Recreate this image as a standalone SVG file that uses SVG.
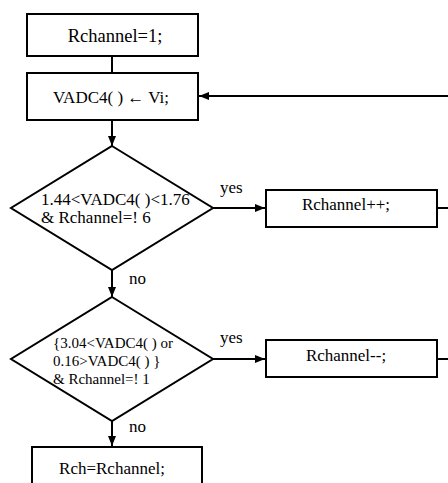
<svg xmlns="http://www.w3.org/2000/svg" width="448" height="483" viewBox="0 0 448 483">
<defs>
<style>
.box{fill:#fff;stroke:#000;stroke-width:2}
.ln{fill:none;stroke:#000;stroke-width:2}
text{font-family:'Liberation Serif','Times New Roman',serif;fill:#000}
</style>
<marker id="ah" viewBox="0 0 10 8" refX="10" refY="4" markerWidth="10" markerHeight="8" markerUnits="userSpaceOnUse" orient="auto">
<path d="M0,0 L10,4 L0,8 Z" fill="#000"/>
</marker>
</defs>
<rect width="448" height="483" fill="#fff"/>
<g id="connectors">
<line class="ln" x1="112" y1="56" x2="112" y2="73"/>
<line class="ln" x1="448" y1="96" x2="199" y2="96" marker-end="url(#ah)"/>
<line class="ln" x1="112" y1="120" x2="112" y2="146" marker-end="url(#ah)"/>
<line class="ln" x1="213" y1="208" x2="265" y2="208" marker-end="url(#ah)"/>
<line class="ln" x1="437" y1="208" x2="448" y2="208"/>
<line class="ln" x1="112" y1="270" x2="112" y2="297" marker-end="url(#ah)"/>
<line class="ln" x1="213" y1="359" x2="265" y2="359" marker-end="url(#ah)"/>
<line class="ln" x1="437" y1="359" x2="448" y2="359"/>
<line class="ln" x1="112" y1="421" x2="112" y2="446" marker-end="url(#ah)"/>
<text x="220" y="193" font-size="17">yes</text>
<text x="129" y="284" font-size="17">no</text>
<text x="220" y="343" font-size="17">yes</text>
<text x="129" y="432" font-size="17">no</text>
</g>
<g id="n1">
<rect class="box" x="27" y="14" width="171" height="42"/>
<text x="115" y="42" font-size="18.5" text-anchor="middle">Rchannel=1;</text>
</g>
<g id="n2">
<rect class="box" x="27" y="73" width="171" height="47"/>
<text x="111" y="103" font-size="17" text-anchor="middle">VADC4( ) ← Vi;</text>
</g>
<g id="d1">
<polygon class="box" points="112,146 213,208 112,270 11,208"/>
<text x="41" y="205" font-size="17">1.44&lt;VADC4( )&lt;1.76</text>
<text x="41" y="223" font-size="17">&amp; Rchannel=! 6</text>
</g>
<g id="n3">
<rect class="box" x="266" y="190" width="171" height="37"/>
<text x="346" y="210" font-size="17" text-anchor="middle">Rchannel++;</text>
</g>
<g id="d2">
<polygon class="box" points="112,297 213,359 112,421 11,359"/>
<text x="53" y="348" font-size="15">{3.04&lt;VADC4( ) or</text>
<text x="53" y="366" font-size="15">0.16&gt;VADC4( ) }</text>
<text x="53" y="384" font-size="15">&amp; Rchannel=! 1</text>
</g>
<g id="n4">
<rect class="box" x="266" y="340" width="171" height="37"/>
<text x="346" y="361" font-size="17" text-anchor="middle">Rchannel--;</text>
</g>
<g id="n5">
<rect class="box" x="32" y="447" width="170" height="45"/>
<text x="112" y="474" font-size="17" text-anchor="middle">Rch=Rchannel;</text>
</g>
</svg>
